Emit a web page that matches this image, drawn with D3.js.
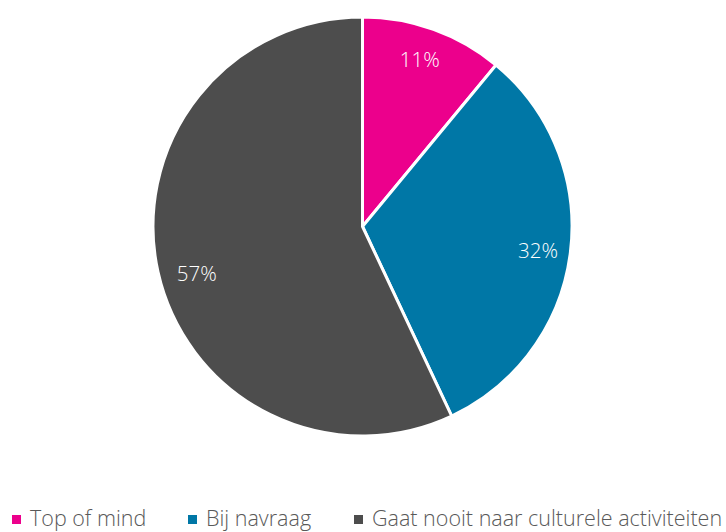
<!DOCTYPE html>
<html>
<head>
<meta charset="utf-8">
<script src="https://cdn.jsdelivr.net/npm/d3@7"></script>
<style>
  html, body { margin: 0; padding: 0; background: #fff; overflow: hidden; }
  svg { display: block; font-family: "Open Sans", "Lato", sans-serif; font-weight: 300; }
</style>
</head>
<body>
<svg id="chart" width="726" height="532"></svg>
<script>
const categories = ["Top of mind", "Bij navraag", "Gaat nooit naar culturele activiteiten"];
const values = [11, 32, 57];
const colors = ["#EC008C", "#0077A6", "#4D4D4D"];

const svg = d3.select("#chart");
const cx = 362.5, cy = 226.5, radius = 209.5;

const pie = d3.pie().sort(null).value(d => d.value);
const data = categories.map((c, i) => ({ name: c, value: values[i], color: colors[i] }));
const arcs = pie(data);

const arc = d3.arc().innerRadius(0).outerRadius(radius);
const labelArc = d3.arc().innerRadius(radius * 0.835).outerRadius(radius * 0.835);
// small per-slice adjustments so labels sit comfortably inside their wedge
const labelNudge = [[-2, -2], [2, 2], [5, 9]];

const g = svg.append("g").attr("transform", `translate(${cx},${cy})`);

g.selectAll("path")
  .data(arcs)
  .join("path")
  .attr("d", arc)
  .attr("fill", d => d.data.color)
  .attr("stroke", "#fff")
  .attr("stroke-width", 3)
  .attr("stroke-linejoin", "round");

g.selectAll("text.val")
  .data(arcs)
  .join("text")
  .attr("class", "val")
  .attr("transform", (d, i) => {
    const [x, y] = labelArc.centroid(d);
    return `translate(${x + labelNudge[i][0]},${y + labelNudge[i][1]})`;
  })
  .attr("text-anchor", "middle")
  .attr("dy", "0.35em")
  .attr("fill", "#fff")
  .attr("font-size", 20.5)
  .text(d => d.data.value + "%");

// Legend along the bottom
const legendX = [12, 188, 354];
const legend = svg.append("g");
const item = legend.selectAll("g")
  .data(data)
  .join("g")
  .attr("transform", (d, i) => `translate(${legendX[i]},0)`);

item.append("rect")
  .attr("x", 0)
  .attr("y", 515)
  .attr("width", 9)
  .attr("height", 9)
  .attr("fill", d => d.color);

item.append("text")
  .attr("x", 18)
  .attr("y", 526)
  .attr("fill", "#595959")
  .attr("font-size", 21.5)
  .text(d => d.name);
</script>
</body>
</html>
